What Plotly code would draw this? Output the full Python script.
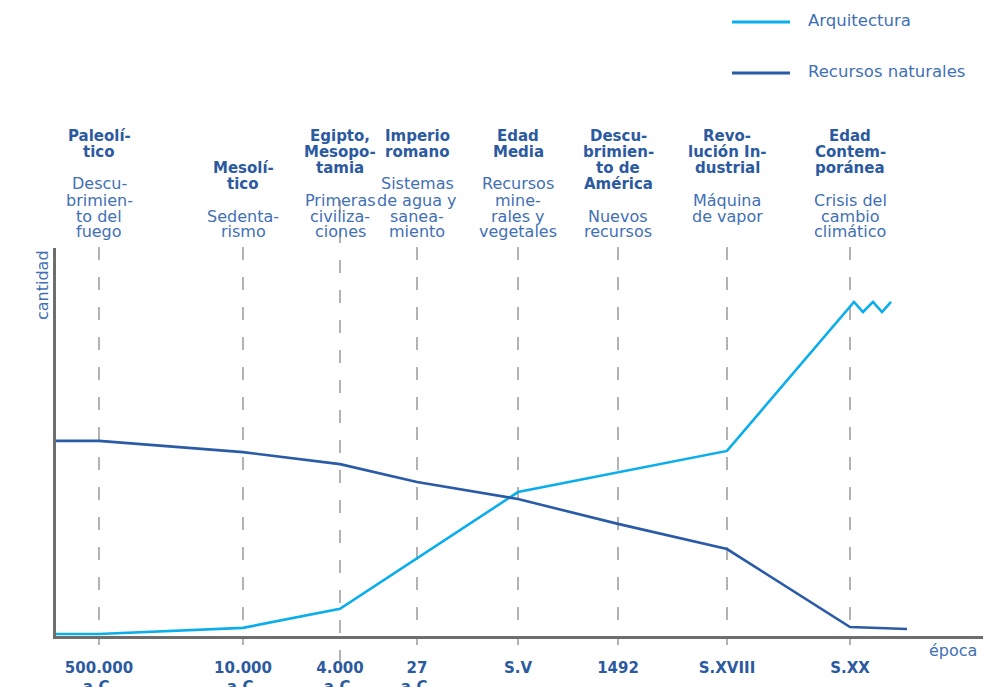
import plotly.graph_objects as go

# ---------------- data ----------------
epoch_ticks = ["500.000<br>a.C.", "10.000<br>a.C.", "4.000<br>a.C.", "27<br>a.C.",
               "S.V", "1492", "S.XVIII", "S.XX"]
epoch_pos = [4.3, 18.7, 28.4, 36.1, 46.2, 56.2, 67.1, 79.4]

epoch_titles = [
    ["Paleolí-", "tico"],
    ["Mesolí-", "tico"],
    ["Egipto,", "Mesopo-", "tamia"],
    ["Imperio", "romano"],
    ["Edad", "Media"],
    ["Descu-", "brimien-", "to de", "América"],
    ["Revo-", "lución In-", "dustrial"],
    ["Edad", "Contem-", "poránea"],
]
epoch_desc = [
    ["Descu-", "brimien-", "to del", "fuego"],
    ["Sedenta-", "rismo"],
    ["Primeras", "civiliza-", "ciones"],
    ["Sistemas", "de agua y", "sanea-", "miento"],
    ["Recursos", "mine-", "rales y", "vegetales"],
    ["Nuevos", "recursos"],
    ["Máquina", "de vapor", ""],
    ["Crisis del", "cambio", "climático"],
]

arq_x = [0, 4.3, 18.7, 28.4, 46.2, 67.1, 79.8, 80.7, 81.7, 82.6, 83.5]
arq_y = [0.5, 0.5, 2.1, 7.0, 37.1, 47.7, 86.1, 83.5, 86.1, 83.5, 86.1]

rec_x = [0, 4.3, 18.7, 28.4, 36.1, 46.2, 56.2, 67.1, 79.4, 85.1]
rec_y = [50.3, 50.3, 47.4, 44.3, 39.7, 35.3, 28.9, 22.4, 2.3, 1.8]

series_names = ["Arquitectura", "Recursos naturales"]

# ---------------- style ----------------
FONT = "DejaVu Sans"
C_ARQ = "#0AAEEB"
C_REC = "#2A5BA6"
C_TITLE = "#2C5A9F"
C_DESC = "#4170B5"
C_AXIS = "#6E6E6E"
C_DASH = "#8A8A8A"

W, H = 999, 687
ML, MR, MT, MB = 56, 16, 248, 51
PLOT_H = H - MT - MB
PLOT_W = W - ML - MR


def py(px):
    """pixel row -> paper y"""
    return (H - MB - px) / PLOT_H


def pxx(px):
    return (px - ML) / PLOT_W


fig = go.Figure()
fig.add_trace(go.Scatter(x=arq_x, y=arq_y, mode="lines", name=series_names[0],
                         line=dict(color=C_ARQ, width=2.6), showlegend=False,
                         cliponaxis=False))
fig.add_trace(go.Scatter(x=rec_x, y=rec_y, mode="lines", name=series_names[1],
                         line=dict(color=C_REC, width=2.6), showlegend=False,
                         cliponaxis=False))

shapes = []
for i, xp in enumerate(epoch_pos):
    top, bot = 247, 645
    if i == 2:
        top, bot = 200, 662
    shapes.append(dict(type="line", xref="x", yref="paper", x0=xp, x1=xp,
                       y0=py(top), y1=py(bot),
                       line=dict(color=C_DASH, width=1.3, dash="13px,17px"),
                       layer="below"))

annotations = []
LS = 16
for xp, tl, dl in zip(epoch_pos, epoch_titles, epoch_desc):
    n = len(dl)
    first_desc = 232 - LS * (n - 1)
    for k, line in enumerate(dl):
        if line:
            annotations.append(dict(x=xp, xref="x", y=py(first_desc + LS * k), yref="paper",
                                    text=line, showarrow=False, xanchor="center", yanchor="middle",
                                    font=dict(family=FONT, size=16, color=C_DESC)))
    last_title = first_desc - 32
    m = len(tl)
    for k, line in enumerate(tl):
        annotations.append(dict(x=xp, xref="x", y=py(last_title - LS * (m - 1 - k)), yref="paper",
                                text=line, showarrow=False, xanchor="center", yanchor="middle",
                                font=dict(family=FONT, size=15, color=C_TITLE, weight=700)))

# axis titles
annotations.append(dict(x=0, xref="paper", xshift=-14, y=1, yref="paper", yanchor="top",
                        xanchor="center", text="cantidad", textangle=-90, showarrow=False,
                        font=dict(family=FONT, size=16, color=C_DESC)))
annotations.append(dict(x=pxx(953), xref="paper", y=py(650), yref="paper",
                        xanchor="center", yanchor="middle", text="época", showarrow=False,
                        font=dict(family=FONT, size=16, color=C_DESC)))

# legend
for name, col, ly in zip(series_names, [C_ARQ, C_REC], [22, 73]):
    shapes.append(dict(type="line", xref="paper", yref="paper", x0=pxx(732), x1=pxx(790),
                       y0=py(ly), y1=py(ly), line=dict(color=col, width=3)))
    annotations.append(dict(x=pxx(806), xref="paper", y=py(ly - 2), yref="paper",
                            xanchor="left", yanchor="middle", text=name, showarrow=False,
                            font=dict(family=FONT, size=16.5, color=C_DESC)))

fig.update_layout(
    width=W, height=H,
    margin=dict(l=ML, r=MR, t=MT, b=MB, pad=0, autoexpand=False),
    paper_bgcolor="white", plot_bgcolor="white",
    shapes=shapes, annotations=annotations,
    showlegend=False,
    xaxis=dict(range=[0, PLOT_W / 10], showgrid=False, zeroline=False, automargin=False,
               showline=True, linecolor=C_AXIS, linewidth=2.5,
               tickvals=epoch_pos, ticktext=epoch_ticks, ticks="",
               ticklabelstandoff=16,
               tickfont=dict(family=FONT, size=15, color=C_TITLE, weight=700)),
    yaxis=dict(range=[0, 100], showgrid=False, zeroline=False, automargin=False,
               showline=True, linecolor=C_AXIS, linewidth=2.5,
               showticklabels=False, ticks=""),
)

fig.write_html("out.html")
